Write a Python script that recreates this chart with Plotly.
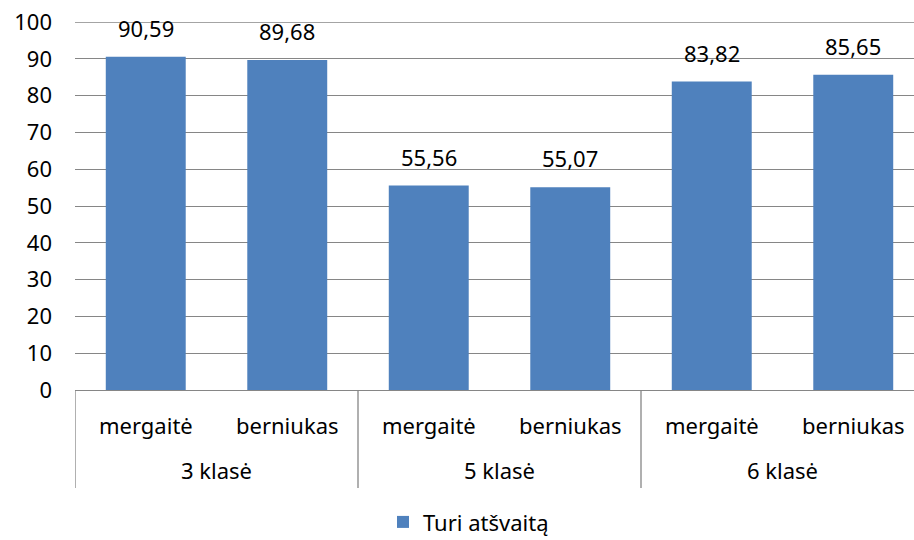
import plotly.graph_objects as go

groups = ["3 klasė", "5 klasė", "6 klasė"]
subcats = ["mergaitė", "berniukas"]
values = [90.59, 89.68, 55.56, 55.07, 83.82, 85.65]
series_name = "Turi atšvaitą"
y_max = 100

FONT = "Noto Sans"
FS = 22
GRID = "#868686"

n = len(groups) * len(subcats)
xs = list(range(n))
labels = [f"{v:.2f}".replace(".", ",") for v in values]

fig = go.Figure()
fig.add_trace(go.Bar(
    x=xs, y=values, name=series_name,
    marker=dict(color="#4F81BD", line=dict(width=0)),
    width=0.565,
))

ann = []
shapes = []
# value labels above bars
for x, v, t in zip(xs, values, labels):
    ann.append(dict(x=x, y=v, xref="x", yref="y", text=t, showarrow=False,
                    yanchor="bottom", yshift=12,
                    font=dict(family=FONT, size=FS, color="black")))
# category labels (two levels) and separators
for gi, g in enumerate(groups):
    for si, s in enumerate(subcats):
        ann.append(dict(x=gi * len(subcats) + si, y=0, xref="x", yref="paper",
                        text=s, showarrow=False, yanchor="middle", yshift=-35,
                        font=dict(family=FONT, size=FS, color="black")))
    ann.append(dict(x=gi * len(subcats) + (len(subcats) - 1) / 2, y=0, xref="x", yref="paper",
                    text=g, showarrow=False, yanchor="middle", yshift=-80,
                    font=dict(family=FONT, size=FS, color="black")))
for gi in range(len(groups) + 1):
    xb = gi * len(subcats) - 0.5
    shapes.append(dict(type="line", xref="x", yref="paper", x0=xb, x1=xb,
                       y0=0, y1=-98 / 368, line=dict(color=GRID, width=1.3)))
# top gridline (plotly skips the one on the plot edge)
shapes.append(dict(type="line", xref="paper", yref="y", x0=0, x1=1, y0=y_max, y1=y_max,
                   line=dict(color=GRID, width=1.3)))

fig.update_layout(
    width=914, height=540,
    margin=dict(l=75, r=0, t=22, b=150, autoexpand=False),
    paper_bgcolor="white", plot_bgcolor="white",
    font=dict(family=FONT, size=FS, color="black"),
    showlegend=True,
    legend=dict(orientation="h", x=0.469, xanchor="center", y=-0.359, yanchor="middle",
                font=dict(family=FONT, size=FS, color="black")),
    annotations=ann, shapes=shapes,
)
fig.update_xaxes(range=[-0.5, -0.5 + 839 / 141.5], showticklabels=False, showgrid=False,
                 zeroline=False, showline=False, ticks="", automargin=False)
fig.update_yaxes(range=[0, y_max], dtick=10, showgrid=True, gridcolor=GRID, gridwidth=1.3,
                 zeroline=True, zerolinecolor=GRID, zerolinewidth=1.3,
                 showline=False, ticks="", ticklabelstandoff=22, automargin=False,
                 tickfont=dict(family=FONT, size=FS, color="black"))

# drop the page's default body margin so the figure sits at the window corner
fig.write_html("out.html", config={"displayModeBar": False},
               post_script="document.body.style.margin='0';")
